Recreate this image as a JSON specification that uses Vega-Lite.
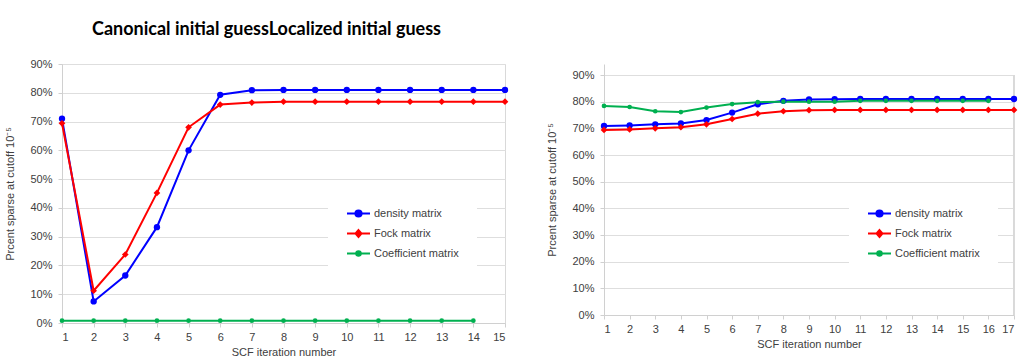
{
  "$schema": "https://vega.github.io/schema/vega-lite/v6.json",
  "background": "white",
  "padding": {"left": 4, "top": 20, "right": 0, "bottom": 0},
  "spacing": 36,
  "datasets": {
    "canonical": [
      {"iter": 1, "series": "density matrix", "pct": 71.0},
      {"iter": 2, "series": "density matrix", "pct": 7.5},
      {"iter": 3, "series": "density matrix", "pct": 16.5},
      {"iter": 4, "series": "density matrix", "pct": 33.3},
      {"iter": 5, "series": "density matrix", "pct": 60.0},
      {"iter": 6, "series": "density matrix", "pct": 79.3},
      {"iter": 7, "series": "density matrix", "pct": 80.9},
      {"iter": 8, "series": "density matrix", "pct": 81.0},
      {"iter": 9, "series": "density matrix", "pct": 81.0},
      {"iter": 10, "series": "density matrix", "pct": 81.0},
      {"iter": 11, "series": "density matrix", "pct": 81.0},
      {"iter": 12, "series": "density matrix", "pct": 81.0},
      {"iter": 13, "series": "density matrix", "pct": 81.0},
      {"iter": 14, "series": "density matrix", "pct": 81.0},
      {"iter": 15, "series": "density matrix", "pct": 81.0},
      {"iter": 1, "series": "Fock matrix", "pct": 69.4},
      {"iter": 2, "series": "Fock matrix", "pct": 11.2},
      {"iter": 3, "series": "Fock matrix", "pct": 23.8},
      {"iter": 4, "series": "Fock matrix", "pct": 45.2},
      {"iter": 5, "series": "Fock matrix", "pct": 68.0},
      {"iter": 6, "series": "Fock matrix", "pct": 75.9},
      {"iter": 7, "series": "Fock matrix", "pct": 76.6},
      {"iter": 8, "series": "Fock matrix", "pct": 76.9},
      {"iter": 9, "series": "Fock matrix", "pct": 76.9},
      {"iter": 10, "series": "Fock matrix", "pct": 76.9},
      {"iter": 11, "series": "Fock matrix", "pct": 76.9},
      {"iter": 12, "series": "Fock matrix", "pct": 76.9},
      {"iter": 13, "series": "Fock matrix", "pct": 76.9},
      {"iter": 14, "series": "Fock matrix", "pct": 76.9},
      {"iter": 15, "series": "Fock matrix", "pct": 76.9},
      {"iter": 1, "series": "Coefficient matrix", "pct": 0.8},
      {"iter": 2, "series": "Coefficient matrix", "pct": 0.8},
      {"iter": 3, "series": "Coefficient matrix", "pct": 0.8},
      {"iter": 4, "series": "Coefficient matrix", "pct": 0.8},
      {"iter": 5, "series": "Coefficient matrix", "pct": 0.8},
      {"iter": 6, "series": "Coefficient matrix", "pct": 0.8},
      {"iter": 7, "series": "Coefficient matrix", "pct": 0.8},
      {"iter": 8, "series": "Coefficient matrix", "pct": 0.8},
      {"iter": 9, "series": "Coefficient matrix", "pct": 0.8},
      {"iter": 10, "series": "Coefficient matrix", "pct": 0.8},
      {"iter": 11, "series": "Coefficient matrix", "pct": 0.8},
      {"iter": 12, "series": "Coefficient matrix", "pct": 0.8},
      {"iter": 13, "series": "Coefficient matrix", "pct": 0.8},
      {"iter": 14, "series": "Coefficient matrix", "pct": 0.8}
    ],
    "localized": [
      {"iter": 1, "series": "density matrix", "pct": 70.9},
      {"iter": 2, "series": "density matrix", "pct": 71.1},
      {"iter": 3, "series": "density matrix", "pct": 71.5},
      {"iter": 4, "series": "density matrix", "pct": 71.8},
      {"iter": 5, "series": "density matrix", "pct": 73.1},
      {"iter": 6, "series": "density matrix", "pct": 75.9},
      {"iter": 7, "series": "density matrix", "pct": 79.0},
      {"iter": 8, "series": "density matrix", "pct": 80.3},
      {"iter": 9, "series": "density matrix", "pct": 80.8},
      {"iter": 10, "series": "density matrix", "pct": 80.9},
      {"iter": 11, "series": "density matrix", "pct": 81.0},
      {"iter": 12, "series": "density matrix", "pct": 81.0},
      {"iter": 13, "series": "density matrix", "pct": 81.0},
      {"iter": 14, "series": "density matrix", "pct": 81.0},
      {"iter": 15, "series": "density matrix", "pct": 81.0},
      {"iter": 16, "series": "density matrix", "pct": 81.0},
      {"iter": 17, "series": "density matrix", "pct": 81.0},
      {"iter": 1, "series": "Fock matrix", "pct": 69.4},
      {"iter": 2, "series": "Fock matrix", "pct": 69.6},
      {"iter": 3, "series": "Fock matrix", "pct": 70.0},
      {"iter": 4, "series": "Fock matrix", "pct": 70.4},
      {"iter": 5, "series": "Fock matrix", "pct": 71.5},
      {"iter": 6, "series": "Fock matrix", "pct": 73.5},
      {"iter": 7, "series": "Fock matrix", "pct": 75.5},
      {"iter": 8, "series": "Fock matrix", "pct": 76.4},
      {"iter": 9, "series": "Fock matrix", "pct": 76.8},
      {"iter": 10, "series": "Fock matrix", "pct": 76.9},
      {"iter": 11, "series": "Fock matrix", "pct": 76.9},
      {"iter": 12, "series": "Fock matrix", "pct": 76.9},
      {"iter": 13, "series": "Fock matrix", "pct": 76.9},
      {"iter": 14, "series": "Fock matrix", "pct": 76.9},
      {"iter": 15, "series": "Fock matrix", "pct": 76.9},
      {"iter": 16, "series": "Fock matrix", "pct": 76.9},
      {"iter": 17, "series": "Fock matrix", "pct": 76.9},
      {"iter": 1, "series": "Coefficient matrix", "pct": 78.4},
      {"iter": 2, "series": "Coefficient matrix", "pct": 78.0},
      {"iter": 3, "series": "Coefficient matrix", "pct": 76.4},
      {"iter": 4, "series": "Coefficient matrix", "pct": 76.1},
      {"iter": 5, "series": "Coefficient matrix", "pct": 77.8},
      {"iter": 6, "series": "Coefficient matrix", "pct": 79.1},
      {"iter": 7, "series": "Coefficient matrix", "pct": 79.8},
      {"iter": 8, "series": "Coefficient matrix", "pct": 80.0},
      {"iter": 9, "series": "Coefficient matrix", "pct": 80.0},
      {"iter": 10, "series": "Coefficient matrix", "pct": 80.0},
      {"iter": 11, "series": "Coefficient matrix", "pct": 80.3},
      {"iter": 12, "series": "Coefficient matrix", "pct": 80.3},
      {"iter": 13, "series": "Coefficient matrix", "pct": 80.3},
      {"iter": 14, "series": "Coefficient matrix", "pct": 80.3},
      {"iter": 15, "series": "Coefficient matrix", "pct": 80.3},
      {"iter": 16, "series": "Coefficient matrix", "pct": 80.3}
    ]
  },
  "config": {
    "view": {"stroke": "#d9d9d9", "strokeWidth": 1},
    "axis": {
      "labelFont": "Liberation Sans",
      "labelFontSize": 11,
      "labelColor": "#404040",
      "titleFont": "Liberation Sans",
      "titleFontSize": 11,
      "titleFontWeight": "normal",
      "titleColor": "#404040",
      "domainColor": "#d0d0d0",
      "tickColor": "#d0d0d0",
      "gridColor": "#dedede",
      "tickSize": 4,
      "labelPadding": 5
    },
    "axisY": {"titlePadding": 14, "labelPadding": 6},
    "axisX": {"titlePadding": 4, "labelPadding": 4, "grid": false},
    "legend": {
      "labelFont": "Liberation Sans",
      "labelFontSize": 11,
      "labelColor": "#404040",
      "fillColor": "white",
      "padding": 18,
      "labelOffset": 3,
      "symbolStrokeWidth": 2,
      "symbolOpacity": 1,
      "rowPadding": -2
    }
  },
  "resolve": {"scale": {"color": "independent", "shape": "independent"}, "legend": {"color": "independent", "shape": "independent"}},
  "hconcat": [
    {
      "width": 443,
      "height": 259,
      "title": {"text": "Canonical initial guessLocalized initial guess", "font": "Lato", "fontSize": 18, "fontWeight": "bold", "color": "#000000", "anchor": "middle", "dx": -17, "offset": 19},
      "data": {"name": "canonical"},
      "encoding": {
        "x": {"field": "iter", "type": "quantitative", "scale": {"domain": [1, 15], "nice": false, "zero": false}, "axis": {"values": [1,2,3,4,5,6,7,8,9,10,11,12,13,14,15], "format": "d", "title": "SCF iteration number"}},
        "y": {"field": "pct", "type": "quantitative", "scale": {"domain": [0, 90], "nice": false}, "axis": {"values": [0,10,20,30,40,50,60,70,80,90], "labelExpr": "datum.value + '%'", "title": "Prcent sparse at cutoff 10⁻⁵"}}
      },
      "layer": [
        {"mark": {"type": "line", "strokeWidth": 2}, "encoding": {"color": {"field": "series", "type": "nominal", "scale": {"domain": ["density matrix", "Fock matrix", "Coefficient matrix"], "range": ["#0000ff", "#ff0000", "#00b050"]}}}},
        {"transform": [{"filter": "datum.series === 'density matrix'"}], "mark": {"type": "point", "filled": true, "shape": "circle", "size": 40, "opacity": 1, "color": "#0000ff"}},
        {"transform": [{"filter": "datum.series === 'Fock matrix'"}], "mark": {"type": "point", "filled": true, "shape": "diamond", "size": 45, "opacity": 1, "color": "#ff0000"}},
        {"transform": [{"filter": "datum.series === 'Coefficient matrix'"}], "mark": {"type": "point", "filled": true, "shape": "circle", "size": 22, "opacity": 1, "color": "#00b050"}},
        {"mark": {"type": "point", "filled": true, "opacity": 0},
         "encoding": {
           "color": {"field": "series", "type": "nominal", "scale": {"domain": ["density matrix", "Fock matrix", "Coefficient matrix"], "range": ["#0000ff", "#ff0000", "#00b050"]}, "legend": {"title": null, "orient": "none", "legendX": 266, "legendY": 119, "symbolSize": 529}},
           "shape": {"field": "series", "type": "nominal", "scale": {"domain": ["density matrix", "Fock matrix", "Coefficient matrix"], "range": ["M-1,0L1,0M-0.27,0A0.27,0.27,0,1,0,0.27,0A0.27,0.27,0,1,0,-0.27,0Z", "M-1,0L1,0M0,-0.3L0.26,0L0,0.3L-0.26,0Z", "M-1,0L1,0M-0.2,0A0.2,0.2,0,1,0,0.2,0A0.2,0.2,0,1,0,-0.2,0Z"]}, "legend": {"title": null, "orient": "none", "legendX": 266, "legendY": 119, "symbolSize": 529}}
         }
        }
      ]
    },
    {
      "width": 410,
      "height": 251,
      "view": {"stroke": null},
      "data": {"name": "localized"},
      "encoding": {
        "x": {"field": "iter", "type": "quantitative", "scale": {"domain": [1, 17], "nice": false, "zero": false}, "axis": {"values": [1,2,3,4,5,6,7,8,9,10,11,12,13,14,15,16,17], "format": "d", "title": "SCF iteration number"}},
        "y": {"field": "pct", "type": "quantitative", "scale": {"domain": [0, 94.125], "nice": false}, "axis": {"values": [0,10,20,30,40,50,60,70,80,90], "labelExpr": "datum.value + '%'", "title": "Prcent sparse at cutoff 10⁻⁵"}}
      },
      "layer": [
        {"mark": {"type": "rule", "color": "#d9d9d9", "strokeWidth": 1}, "encoding": {"x": {"datum": 17}, "y": {"datum": 0}, "y2": {"datum": 90}}},
        {"mark": {"type": "line", "strokeWidth": 2}, "encoding": {"color": {"field": "series", "type": "nominal", "scale": {"domain": ["density matrix", "Fock matrix", "Coefficient matrix"], "range": ["#0000ff", "#ff0000", "#00b050"]}}}},
        {"transform": [{"filter": "datum.series === 'density matrix'"}], "mark": {"type": "point", "filled": true, "shape": "circle", "size": 40, "opacity": 1, "color": "#0000ff"}},
        {"transform": [{"filter": "datum.series === 'Fock matrix'"}], "mark": {"type": "point", "filled": true, "shape": "diamond", "size": 45, "opacity": 1, "color": "#ff0000"}},
        {"transform": [{"filter": "datum.series === 'Coefficient matrix'"}], "mark": {"type": "point", "filled": true, "shape": "circle", "size": 22, "opacity": 1, "color": "#00b050"}},
        {"mark": {"type": "point", "filled": true, "opacity": 0},
         "encoding": {
           "color": {"field": "series", "type": "nominal", "scale": {"domain": ["density matrix", "Fock matrix", "Coefficient matrix"], "range": ["#0000ff", "#ff0000", "#00b050"]}, "legend": {"title": null, "orient": "none", "legendX": 245, "legendY": 119, "symbolSize": 529}},
           "shape": {"field": "series", "type": "nominal", "scale": {"domain": ["density matrix", "Fock matrix", "Coefficient matrix"], "range": ["M-1,0L1,0M-0.27,0A0.27,0.27,0,1,0,0.27,0A0.27,0.27,0,1,0,-0.27,0Z", "M-1,0L1,0M0,-0.3L0.26,0L0,0.3L-0.26,0Z", "M-1,0L1,0M-0.2,0A0.2,0.2,0,1,0,0.2,0A0.2,0.2,0,1,0,-0.2,0Z"]}, "legend": {"title": null, "orient": "none", "legendX": 245, "legendY": 119, "symbolSize": 529}}
         }
        }
      ]
    }
  ]
}
